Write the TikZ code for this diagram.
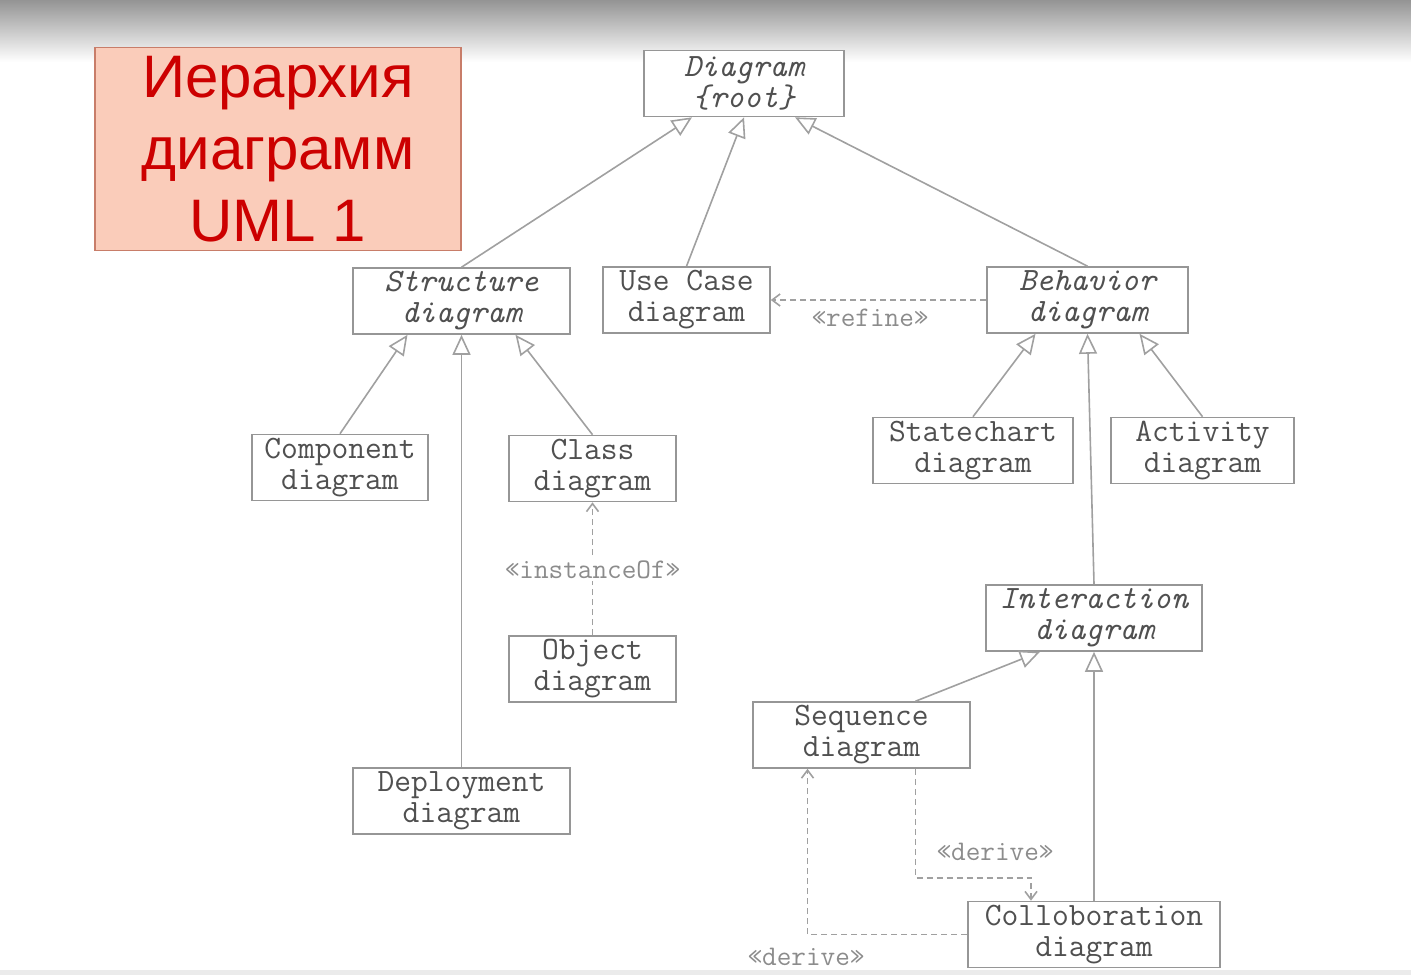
\documentclass[tikz,border=0pt]{standalone}
\usepackage{fontspec}
\setmainfont{Liberation Sans}
\usetikzlibrary{arrows.meta}
\definecolor{boxline}{RGB}{150,150,150}
\definecolor{edgeline}{RGB}{160,160,160}
\definecolor{diagtext}{RGB}{80,80,80}
\definecolor{stereotext}{RGB}{140,140,140}
\definecolor{titlefill}{RGB}{250,204,186}
\definecolor{titleline}{RGB}{200,125,105}
\definecolor{titletext}{RGB}{204,0,0}
\tikzset{
  diag/.style={draw=boxline, line width=0.8pt, fill=white, text=diagtext, align=center,
    font=\ttfamily\fontsize{16.3}{15.5}\selectfont, minimum height=33pt, inner sep=0pt},
  abstr/.style={diag, font=\ttfamily\itshape\fontsize{16.3}{15.5}\selectfont},
  gen/.style={draw=edgeline, line width=0.8pt, -{Triangle[open, length=10pt, width=9pt]}},
  dep/.style={draw=edgeline, line width=0.8pt, dash pattern=on 3pt off 2pt,
    -{Straight Barb[length=4pt, width=6pt]}},
  stereo/.style={text=stereotext, font=\ttfamily\fontsize{14.2}{15}\selectfont}
}
\begin{document}
\begin{tikzpicture}[x=0.5pt, y=-0.5pt]
  \useasboundingbox (0,0) rectangle (1411,975);
  \shade[top color=black!42, bottom color=white] (0,0) rectangle (1411,62);
  \fill[black!8] (0,970) rectangle (1411,975);

  % title
  \node[draw=titleline, fill=titlefill, line width=0.8pt, minimum width=183pt, minimum height=101.5pt,
    text=titletext, align=center, font=\fontsize{30}{36}\selectfont] (title) at (278,149)
    {Иерархия\\диаграмм\\UML 1};

  % diagrams
  \node[abstr, minimum width=100pt] (root) at (744,83.5) {Diagram\\\{root\}};
  \node[abstr, minimum width=108.5pt] (struct) at (461.5,301) {Structure\\diagram};
  \node[diag, minimum width=83.5pt] (usecase) at (686.5,300) {Use Case\\diagram};
  \node[abstr, minimum width=100.5pt] (behav) at (1087.5,300) {Behavior\\diagram};
  \node[diag, minimum width=88pt] (comp) at (340,467.5) {Component\\diagram};
  \node[diag, minimum width=83.5pt] (class) at (592.5,468.5) {Class\\diagram};
  \node[diag, minimum width=100pt] (state) at (973,450.5) {Statechart\\diagram};
  \node[diag, minimum width=91.5pt] (activ) at (1202.5,450.5) {Activity\\diagram};
  \node[diag, minimum width=83.5pt] (object) at (592.5,669) {Object\\diagram};
  \node[abstr, minimum width=108pt] (inter) at (1094,618) {Interaction\\diagram};
  \node[diag, minimum width=108.5pt] (seq) at (861.5,735) {Sequence\\diagram};
  \node[diag, minimum width=108.5pt] (deploy) at (461.5,801) {Deployment\\diagram};
  \node[diag, minimum width=126pt] (collab) at (1094,934.5) {Colloboration\\diagram};

  % generalizations
  \draw[gen] (struct.north) -- ([xshift=-26pt]root.south);
  \draw[gen] (usecase.north) -- (root.south);
  \draw[gen] (behav.north) -- ([xshift=25.5pt]root.south);
  \draw[gen] (comp.north) -- ([xshift=-27pt]struct.south);
  \draw[gen] (deploy.north) -- (struct.south);
  \draw[gen] (class.north) -- ([xshift=27pt]struct.south);
  \draw[gen] (state.north) -- ([xshift=-26pt]behav.south);
  \draw[gen] (activ.north) -- ([xshift=26pt]behav.south);
  \draw[gen] (inter.north) -- (behav.south);
  \draw[gen] ([xshift=27pt]seq.north) -- ([xshift=-27pt]inter.south);
  \draw[gen] (collab.north) -- (inter.south);

  % dependencies
  \draw[dep] (behav.west) -- (usecase.east);
  \node[stereo] (refine) at (870,318) {«refine»};
  \draw[dep] (object.north) -- (class.south);
  \node[stereo, fill=white, inner sep=1pt] (inst) at (592.5,570) {«instanceOf»};
  \draw[dep] ([xshift=27pt]seq.south) -- ++(0,109) -| ([xshift=-31.5pt]collab.north);
  \node[stereo] (derive1) at (995,852) {«derive»};
  \draw[dep] (collab.west) -| ([xshift=-27pt]seq.south);
  \node[stereo] (derive2) at (806,957) {«derive»};
\end{tikzpicture}
\end{document}
